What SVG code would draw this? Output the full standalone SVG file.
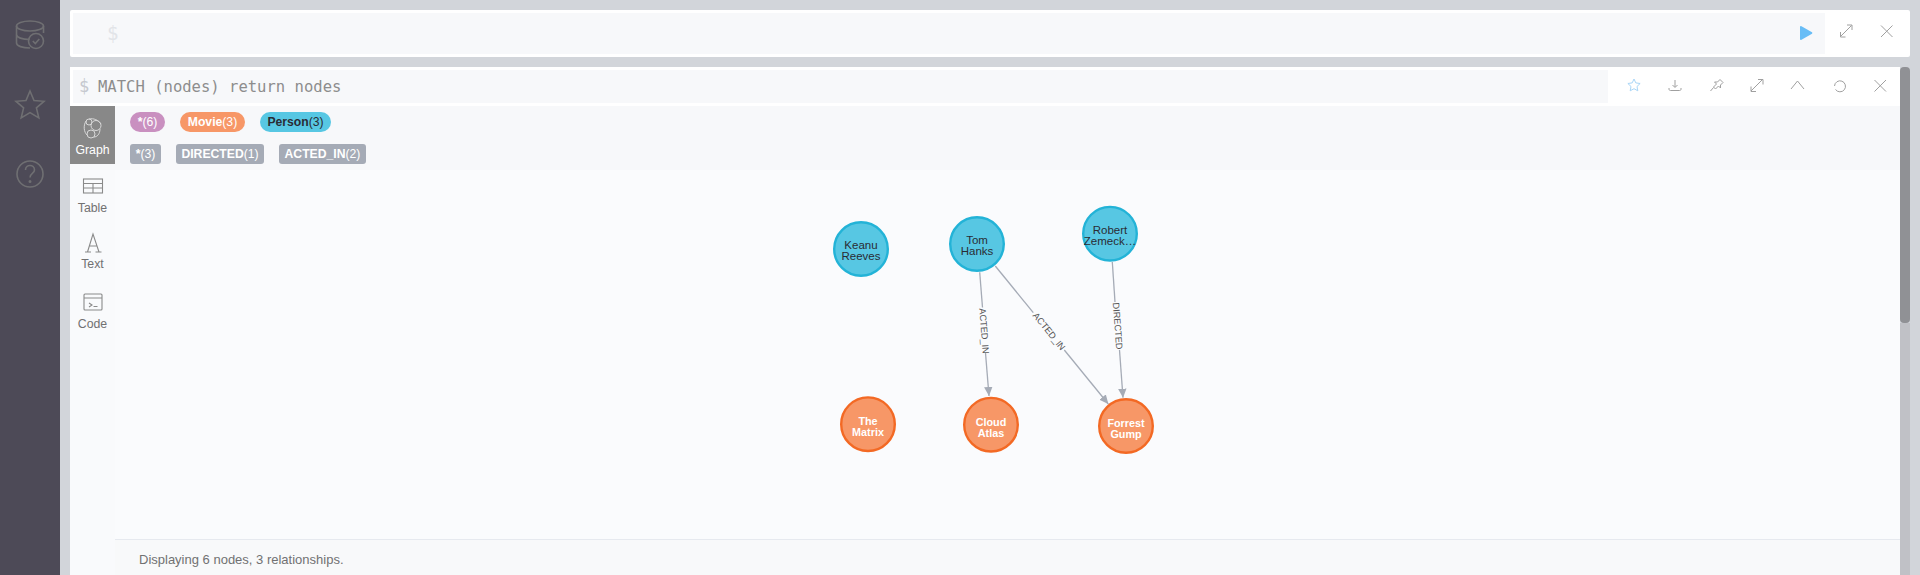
<svg xmlns="http://www.w3.org/2000/svg" width="1920" height="575" viewBox="0 0 1920 575">
<style>
text{font-family:"Liberation Sans",Arial,sans-serif}
.nl{font-size:11.500px;text-anchor:middle}
.p circle{fill:#57C7E3;stroke:#23B3D7;stroke-width:2.400}
.p text{fill:#2A2C34}
.m circle{fill:#F79767;stroke:#F36924;stroke-width:2.400}
.m text{fill:#fff;font-weight:700;font-size:10.800px}
.rel line{stroke:#A5ABB6;stroke-width:1.300;fill:none}
.rl{font-size:9.200px;fill:#555;text-anchor:middle}
.pill{font-size:12.200px;text-anchor:middle}
.tab{font-size:12.300px;text-anchor:middle;fill:#717172}
.ic{fill:none;stroke:#8a8a8a;stroke-width:1.100}
.sb{fill:none;stroke:#6f6f72;stroke-width:1.600}
.tb{fill:none;stroke:#a0a0a0;stroke-width:1}
</style>
<defs>
<marker id="ah" markerUnits="userSpaceOnUse" markerWidth="10" markerHeight="9" refX="9" refY="4.200" orient="auto"><path d="M0 0L9 4.200L0 8.400Z" fill="#A5ABB6"/></marker>
</defs>
<rect width="1920" height="575" fill="#d2d5da"/>
<rect width="60" height="575" fill="#4d4a57"/>
<g id="sidebar" class="sb">
<ellipse cx="30" cy="26" rx="13.500" ry="5"/>
<path d="M16.500 26V43c0 3 6 5 13.500 5M16.500 34.500c0 3 6 5 13 5M43.500 26V33"/>
<circle cx="36" cy="41" r="7.500"/><path d="M32.800 41l2.500 2.500l4-4.500"/>
<path d="M30 91l4 9.500l10 .8l-7.600 6.600l2.400 10l-8.800-5.300l-8.800 5.300l2.400-10l-7.600-6.600l10-.8Z"/>
<circle cx="30" cy="174" r="13"/><path d="M25.500 170c0-6 9-6 9 0c0 3.500-4.500 3.500-4.500 7.500"/><circle cx="30" cy="181.500" r=".7"/>
</g>
<g id="top-card">
<rect x="70" y="10" width="1840" height="47" rx="2" fill="#fff"/>
<rect x="73" y="13" width="1752" height="41" fill="#f7f8fa"/>
<text x="107" y="40" font-size="19" fill="#e2e4e8" style="font-family:'DejaVu Sans Mono',monospace">$</text>
<path d="M1800 27a1 1 0 0 1 1.500-.8l10.500 6a1 1 0 0 1 0 1.500l-10.500 6a1 1 0 0 1-1.500-.8Z" fill="#68BDF6"/>
<path class="tb" d="M1840.500 36.500l11-11M1847 25h5v5M1840.500 32v5h5"/>
<path class="tb" d="M1881 25.500l11.500 11.500M1892.500 25.500l-11.500 11.500"/>
</g>
<g id="result-card">
<rect x="70" y="67" width="1830" height="508" fill="#fff"/>
<rect x="73" y="70" width="1535" height="33" fill="#f7f8fa"/>
<rect x="70" y="106" width="1830" height="64" fill="#f7f8fa"/>
<rect x="70" y="170" width="45" height="405" fill="#f9fafc"/>
<rect x="115" y="170" width="1785" height="369" fill="#fafbfd"/>
<rect x="115" y="539.500" width="1785" height="35.500" fill="#f8f9fa"/>
<rect x="115" y="539" width="1785" height="1" fill="#e6e9ef"/>
<text x="79" y="92" font-size="17" fill="#c6c9cf" style="font-family:'DejaVu Sans Mono',monospace">$</text>
<text x="98" y="92" font-size="15.550" fill="#8d8d8d" style="font-family:'DejaVu Sans Mono',monospace">MATCH (nodes) return nodes</text>
<path d="M1634 79l1.800 3.900l4.300.6l-3.100 3l.8 4.300l-3.800-2.100l-3.800 2.100l.8-4.300l-3.100-3l4.300-.6Z" fill="none" stroke="#a9d6f7" stroke-width="1"/>
<path class="tb" d="M1675 80v7M1672.500 85l2.500 2.500l2.500-2.500M1669 88v1c0 1 .5 1.500 1.500 1.500h9c1 0 1.500-.5 1.500-1.500v-1"/>
<path class="tb" d="M1713.500 87l3-3l-2-2l3 0l2.500-2.500l3 3l-2.500 2.500l0 3l-2-2l-3 3zM1713.500 87.500l-3 3.500"/>
<path class="tb" d="M1751 91l11-11M1758 79.500h5v5M1751 86.500v5h5"/>
<path class="tb" d="M1791 89l6.500-8l6.500 8"/>
<path class="tb" stroke="#888" d="M1835.500 89.500a5.500 5.500 0 1 0-1-3.500"/>
<path class="tb" d="M1874.500 80l11.500 11.500M1886 80l-11.500 11.500"/>
<rect x="1900" y="323" width="10" height="252" fill="#c0c1c6"/>
<rect x="1900" y="67" width="10" height="256" rx="4" fill="#909195"/>
</g>
<g id="tabs">
<rect x="70" y="106" width="45" height="58" fill="#888"/>
<g fill="none" stroke="#d8d8d8" stroke-width="1"><circle cx="96" cy="125.500" r="5"/><circle cx="91" cy="134" r="4"/><circle cx="89" cy="122" r="3"/><path d="M86 121c-3 5-2 11 1 14M89 119c5-1 9 1 12 5M100 129c0 5-3 8-6 8"/></g>
<text class="tab" x="92.500" y="154" style="fill:#fff">Graph</text>
<g class="ic"><rect x="83.500" y="179" width="19" height="14"/><path d="M83.500 183.500h19M83.500 188h19M93 183.500V193"/></g>
<text class="tab" x="92.500" y="212">Table</text>
<path class="ic" d="M85 252h6M95.500 252h6M87.500 252L93 234L99 252M89.500 246h7"/>
<text class="tab" x="92.500" y="268">Text</text>
<g class="ic"><rect x="84" y="294" width="18" height="16" rx="1"/><path d="M84 298h18M89 303l3 2l-3 2M93.500 306.500h4"/></g>
<text class="tab" x="92.500" y="328">Code</text>
</g>
<g id="legend">
<rect x="130" y="112" width="35" height="20" rx="10" fill="#C990C0"/>
<text class="pill" x="147.500" y="126" fill="#fff"><tspan font-weight="700">*</tspan>(6)</text>
<rect x="180" y="112" width="65" height="20" rx="10" fill="#F79767"/>
<text class="pill" x="212.500" y="126" fill="#fff"><tspan font-weight="700">Movie</tspan>(3)</text>
<rect x="260" y="112" width="71" height="20" rx="10" fill="#57C7E3"/>
<text class="pill" x="295.500" y="126" fill="#2A2C34"><tspan font-weight="700">Person</tspan>(3)</text>
<rect x="130" y="144" width="31" height="20" rx="3" fill="#A5ABB6"/>
<text class="pill" x="145.500" y="158" fill="#fff"><tspan font-weight="700">*</tspan>(3)</text>
<rect x="176" y="144" width="88" height="20" rx="3" fill="#A5ABB6"/>
<text class="pill" x="220" y="158" fill="#fff"><tspan font-weight="700">DIRECTED</tspan>(1)</text>
<rect x="279" y="144" width="87" height="20" rx="3" fill="#A5ABB6"/>
<text class="pill" x="322.500" y="158" fill="#fff"><tspan font-weight="700">ACTED_IN</tspan>(2)</text>
</g>
<g id="connectors" class="rel">
<line x1="979.700" y1="272.300" x2="982.500" y2="307.500"/><line x1="985.500" y1="353" x2="989" y2="396" marker-end="url(#ah)"/>
<line x1="995.300" y1="266" x2="1033.300" y2="312.700"/><line x1="1064.300" y1="350" x2="1108.300" y2="404" marker-end="url(#ah)"/>
<line x1="1112.300" y1="262" x2="1115" y2="302"/><line x1="1119.500" y1="350" x2="1123" y2="397.700" marker-end="url(#ah)"/>
<text class="rl" transform="translate(984 331) rotate(85.800)" y="3">ACTED_IN</text>
<text class="rl" transform="translate(1049 331.500) rotate(50.900)" y="3">ACTED_IN</text>
<text class="rl" transform="translate(1117.500 326) rotate(85.600)" y="3">DIRECTED</text>
</g>
<g id="n-keanu" class="p"><circle cx="861" cy="249" r="26.800"/><text class="nl" x="861" y="249">Keanu</text><text class="nl" x="861" y="260">Reeves</text></g>
<g id="n-tom" class="p"><circle cx="977" cy="244" r="26.800"/><text class="nl" x="977" y="244">Tom</text><text class="nl" x="977" y="255">Hanks</text></g>
<g id="n-robert" class="p"><circle cx="1110" cy="233.700" r="26.800"/><text class="nl" x="1110" y="234">Robert</text><text class="nl" x="1110" y="245">Zemeck…</text></g>
<g id="n-matrix" class="m"><circle cx="868" cy="424.200" r="26.800"/><text class="nl" x="868" y="425">The</text><text class="nl" x="868" y="436">Matrix</text></g>
<g id="n-cloud" class="m"><circle cx="991" cy="424.700" r="26.800"/><text class="nl" x="991" y="426">Cloud</text><text class="nl" x="991" y="437">Atlas</text></g>
<g id="n-forrest" class="m"><circle cx="1126" cy="426" r="26.800"/><text class="nl" x="1126" y="427">Forrest</text><text class="nl" x="1126" y="438">Gump</text></g>
<text id="status" x="139" y="564" font-size="13" fill="#717172">Displaying 6 nodes, 3 relationships.</text>
</svg>
